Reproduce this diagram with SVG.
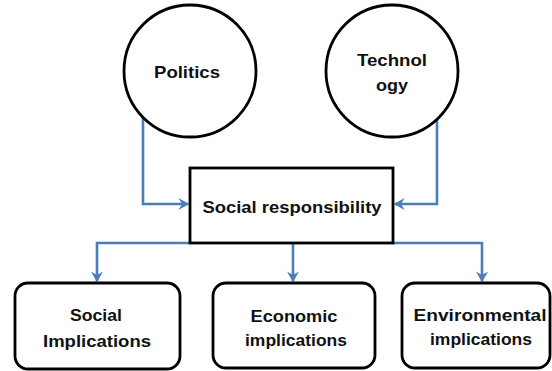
<svg xmlns="http://www.w3.org/2000/svg" width="552" height="371" viewBox="0 0 552 371">
<defs>
<style>
.shape{fill:#fff;stroke:#000;stroke-width:2.8}
.conn{fill:none;stroke:#4a7ebb;stroke-width:2.6;marker-end:url(#arr)}
text{font-family:"Liberation Sans",Arial,sans-serif;font-weight:bold;font-size:16.5px;fill:#111;text-anchor:middle}
</style>
<marker id="arr" markerWidth="12" markerHeight="12" viewBox="0 0 10 10" refX="8" refY="5" orient="auto" markerUnits="userSpaceOnUse">
<path d="M0,0 L9,5 L0,10 L3,5 Z" fill="#4a7ebb"/>
</marker>
</defs>
<rect width="552" height="371" fill="#fff"/>
<g id="connectors">
<path class="conn" d="M143,117 V204 H188"/>
<path class="conn" d="M437,117 V204 H395"/>
<path class="conn" d="M190,243 H97 V281"/>
<path class="conn" d="M293,243 V281"/>
<path class="conn" d="M393,243 H482 V281"/>
</g>
<g id="politics">
<circle class="shape" cx="190" cy="71" r="66"/>
<text x="187" y="78" textLength="66" lengthAdjust="spacingAndGlyphs">Politics</text>
</g>
<g id="technology">
<circle class="shape" cx="392" cy="71" r="66"/>
<text x="392" y="66" textLength="70" lengthAdjust="spacingAndGlyphs">Technol</text>
<text x="392" y="91" textLength="32" lengthAdjust="spacingAndGlyphs">ogy</text>
</g>
<g id="social-responsibility">
<rect class="shape" x="190" y="168" width="203" height="75"/>
<text x="292" y="213" textLength="179" lengthAdjust="spacingAndGlyphs">Social responsibility</text>
</g>
<g id="social-implications">
<rect class="shape" x="15" y="283" width="165" height="86" rx="13"/>
<text x="96" y="321" textLength="52" lengthAdjust="spacingAndGlyphs">Social</text>
<text x="97" y="347" textLength="108" lengthAdjust="spacingAndGlyphs">Implications</text>
</g>
<g id="economic-implications">
<rect class="shape" x="213" y="283" width="162" height="85" rx="13"/>
<text x="294" y="322" textLength="87" lengthAdjust="spacingAndGlyphs">Economic</text>
<text x="296" y="346" textLength="102" lengthAdjust="spacingAndGlyphs">implications</text>
</g>
<g id="environmental-implications">
<rect class="shape" x="402" y="283" width="148" height="85" rx="13"/>
<text x="480" y="321" textLength="133" lengthAdjust="spacingAndGlyphs">Environmental</text>
<text x="481" y="345" textLength="102" lengthAdjust="spacingAndGlyphs">implications</text>
</g>
</svg>
